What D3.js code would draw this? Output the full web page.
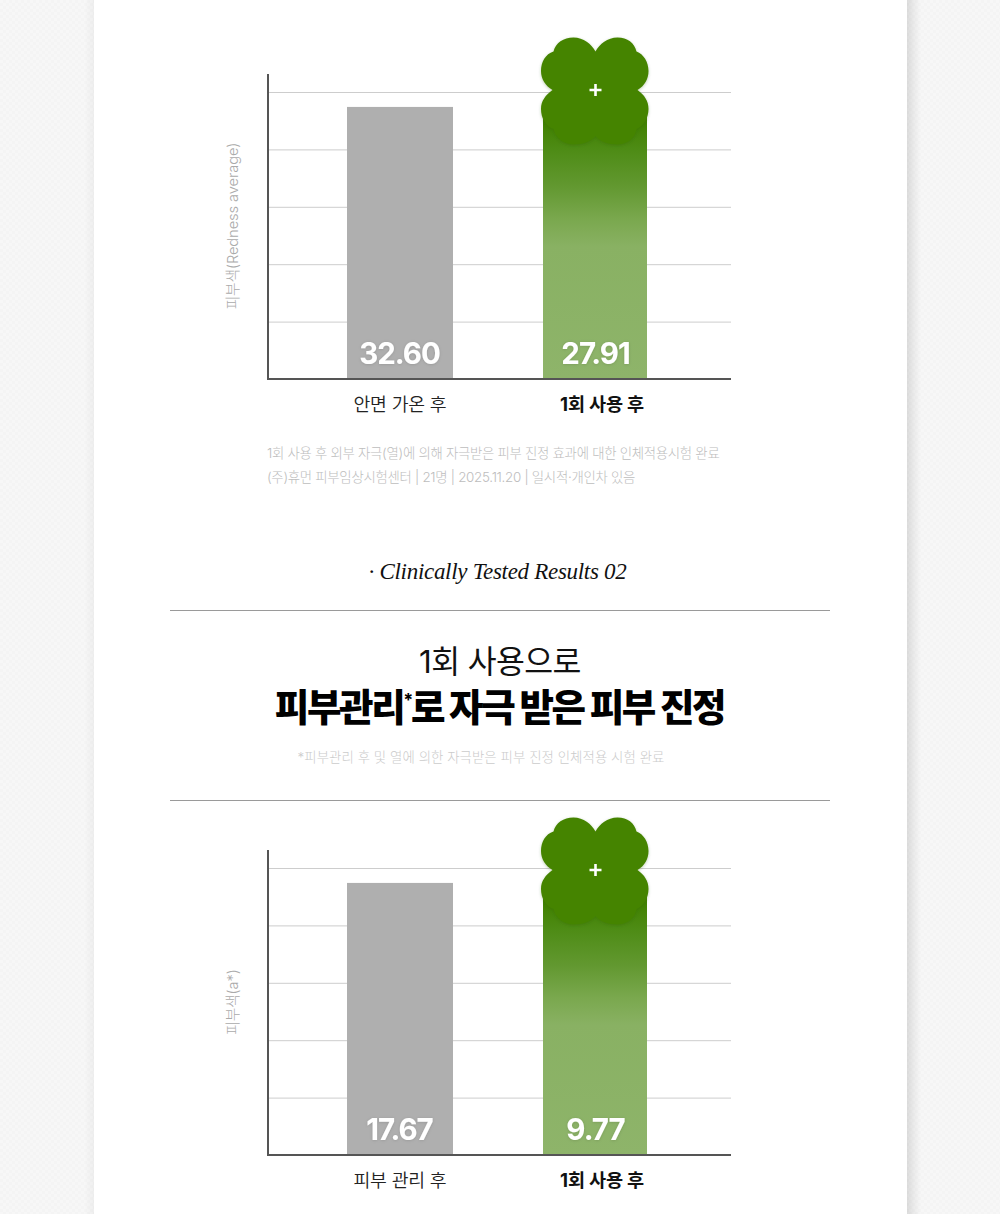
<!DOCTYPE html>
<html><head><meta charset="utf-8">
<script src="https://cdn.jsdelivr.net/npm/d3@7"></script>
<style>html,body{margin:0;padding:0;background:#fff;overflow:hidden}svg{display:block}text{font-family:Inter,"Noto Sans CJK KR","Noto Sans",sans-serif}</style>
</head><body><div id="c"></div>
<script>
const chart1Categories = ["안면 가온 후", "1회 사용 후"];
const chart1Labels = ["32.60", "27.91"];
const chart1Levels = [4.74, 4.80];
const chart1AxisTitle = "피부색(Redness average)";
const chart2Categories = ["피부 관리 후", "1회 사용 후"];
const chart2Labels = ["17.67", "9.77"];
const chart2Levels = [4.74, 4.72];
const chart2AxisTitle = "피부색(a*)";
const gridLevels = [1, 2, 3, 4, 5];
const footnotes = ["1회 사용 후 외부 자극(열)에 의해 자극받은 피부 진정 효과에 대한 인체적용시험 완료", "(주)휴먼 피부임상시험센터 | 21명 | 2025.11.20 | 일시적·개인차 있음"];

const W = 1000, H = 1214;
const svg = d3.select("#c").append("svg").attr("width", W).attr("height", H).attr("viewBox", `0 0 ${W} ${H}`);
const defs = svg.append("defs");

const pat = defs.append("pattern").attr("id", "tex").attr("width", 6).attr("height", 6).attr("patternUnits", "userSpaceOnUse");
pat.append("rect").attr("width", 6).attr("height", 6).attr("fill", "#f4f4f4");
pat.append("rect").attr("width", 3).attr("height", 3).attr("fill", "#f7f7f7");
pat.append("rect").attr("x", 3).attr("y", 3).attr("width", 3).attr("height", 3).attr("fill", "#f7f7f7");
svg.append("rect").attr("width", W).attr("height", H).attr("fill", "url(#tex)");

const shL = defs.append("linearGradient").attr("id", "shL");
shL.append("stop").attr("offset", 0).attr("stop-color", "#000").attr("stop-opacity", 0);
shL.append("stop").attr("offset", 1).attr("stop-color", "#000").attr("stop-opacity", 0.035);
const shR = defs.append("linearGradient").attr("id", "shR");
shR.append("stop").attr("offset", 0).attr("stop-color", "#000").attr("stop-opacity", 0.11);
shR.append("stop").attr("offset", 0.5).attr("stop-color", "#000").attr("stop-opacity", 0.05);
shR.append("stop").attr("offset", 1).attr("stop-color", "#000").attr("stop-opacity", 0);
svg.append("rect").attr("x", 84).attr("width", 10).attr("height", H).attr("fill", "url(#shL)");
svg.append("rect").attr("x", 907).attr("width", 14).attr("height", H).attr("fill", "url(#shR)");
svg.append("rect").attr("x", 94).attr("width", 813).attr("height", H).attr("fill", "#fff");

const grad = defs.append("linearGradient").attr("id", "greenBar").attr("x1", 0).attr("x2", 0).attr("y1", 0).attr("y2", 1);
[[0, "#3f8000"], [0.08, "#428202"], [0.17, "#4e8c16"], [0.30, "#629830"], [0.42, "#7aa84e"], [0.52, "#89b163"], [1, "#8eb46a"]]
  .forEach(([o, c]) => grad.append("stop").attr("offset", o).attr("stop-color", c));

const glow = defs.append("filter").attr("id", "soft").attr("x", "-20%").attr("y", "-20%").attr("width", "140%").attr("height", "140%");
glow.append("feDropShadow").attr("dx", 0).attr("dy", 0.5).attr("stdDeviation", 1.5).attr("flood-color", "#000").attr("flood-opacity", 0.14);
const clovShadow = defs.append("filter").attr("id", "clovS").attr("x", "-20%").attr("y", "-20%").attr("width", "140%").attr("height", "140%");
clovShadow.append("feDropShadow").attr("dx", 0).attr("dy", 1).attr("stdDeviation", 1.5).attr("flood-color", "#2a5a00").attr("flood-opacity", 0.3);

const cloverPath = "M0,-38.5 C-4,-46 -12,-52.5 -22,-52.5 C-32,-52.5 -40,-47 -42,-38.5 C-50,-36 -54.5,-28 -54.5,-19 C-54.5,-11 -50,-4 -43,0 C-50,5 -54.5,11 -54.5,19 C-54.5,28 -50,36 -42,39 C-40,48 -32,54.5 -22,54.5 C-12,54.5 -4,51 0,46 C4,51 12,54.5 22,54.5 C32,54.5 40,48 41,39 C48,36 53,28 53,19 C53,11 49,5 42,0 C49,-4 53,-11 53,-19 C53,-28 48,-36 41,-38.5 C39,-47 32,-52.5 22,-52.5 C12,-52.5 4,-46 0,-38.5 Z";

function drawChart(top, cats, labels, levels, title, cloverY) {
  const g = svg.append("g").attr("transform", `translate(0,${top})`);
  const y = d3.scaleLinear().domain([0, 5]).range([305, 18]);
  const x = d3.scalePoint().domain(cats).range([400, 595]);
  const bw = [106, 104];

  g.selectAll(".grid").data(gridLevels).join("line")
    .attr("x1", 268).attr("x2", 731).attr("y1", d => y(d) + .5).attr("y2", d => y(d) + .5)
    .attr("stroke", "#cdcdcd").attr("stroke-width", 1);

  g.selectAll(".bar").data(cats).join("rect")
    .attr("x", (d, i) => x(d) - bw[i] / 2).attr("width", (d, i) => bw[i])
    .attr("y", (d, i) => y(levels[i])).attr("height", (d, i) => y(0) - y(levels[i]))
    .attr("fill", (d, i) => i === 0 ? "#afafaf" : "url(#greenBar)");

  const cl = g.append("g").attr("transform", `translate(${x(cats[1]) + 0.5},${cloverY})`);
  cl.append("path").attr("d", cloverPath).attr("fill", "#458403").attr("filter", "url(#clovS)");
  cl.append("path").attr("d", "M-1.3,-6 H1.3 V-1.3 H6 V1.3 H1.3 V6 H-1.3 V1.3 H-6 V-1.3 H-1.3 Z").attr("fill", "#fff");

  g.append("line").attr("x1", 267).attr("x2", 731).attr("y1", 305).attr("y2", 305).attr("stroke", "#555").attr("stroke-width", 2);
  g.append("line").attr("x1", 268).attr("x2", 268).attr("y1", 0).attr("y2", 306).attr("stroke", "#555").attr("stroke-width", 2);

  g.selectAll(".val").data(labels).join("text")
    .attr("x", (d, i) => x(cats[i]) - 0.5 + i).attr("y", 290)
    .attr("text-anchor", "middle").attr("fill", "#fff").attr("filter", "url(#soft)")
    .style("font-weight", 700).style("font-size", "29.5px").style("letter-spacing", "-1px")
    .text(d => d);

  g.selectAll(".cat").data(cats).join("text")
    .attr("x", (d, i) => x(d) + (i ? 7 : 0)).attr("y", 337)
    .attr("text-anchor", "middle").attr("fill", (d, i) => i ? "#111" : "#222")
    .style("font-weight", (d, i) => i ? 700 : 350).style("font-size", (d, i) => i ? "18.6px" : "18.3px").style("letter-spacing", "-0.2px")
    .text(d => d);

  g.append("text").attr("transform", `translate(238,152) rotate(-90)`)
    .attr("text-anchor", "middle").attr("fill", "#aaa")
    .style("font-weight", 300).style("font-size", "14.7px").style("letter-spacing", "-0.1px").text(title);
}

drawChart(74, chart1Categories, chart1Labels, chart1Levels, chart1AxisTitle, 16);
drawChart(850, chart2Categories, chart2Labels, chart2Levels, chart2AxisTitle, 20);

svg.selectAll(".fn").data(footnotes).join("text")
  .attr("x", 267).attr("y", (d, i) => 457.5 + i * 24)
  .attr("fill", "#bdbdbd").style("font-weight", 300).style("font-size", "13.4px").style("letter-spacing", "-0.29px").text(d => d);

svg.append("text").attr("x", 497.5).attr("y", 579).attr("text-anchor", "middle").attr("fill", "#111")
  .style("font-family", "'Liberation Serif',serif").style("font-style", "italic").style("font-size", "23px").style("letter-spacing", "-0.3px")
  .text("· Clinically Tested Results 02");

[610, 800].forEach(yy => svg.append("line").attr("x1", 170).attr("x2", 830).attr("y1", yy + .5).attr("y2", yy + .5).attr("stroke", "#9a9a9a"));

svg.append("text").attr("x", 500).attr("y", 672.5).attr("text-anchor", "middle").attr("fill", "#111")
  .style("font-weight", 400).style("font-size", "31.4px").style("letter-spacing", "-0.6px").text("1회 사용으로");

const head = svg.append("text").attr("x", 499.5).attr("y", 721).attr("text-anchor", "middle").attr("fill", "#000")
  .style("font-weight", 900).style("font-size", "37.5px").style("letter-spacing", "-2.4px").style("word-spacing", "1px");
head.append("tspan").text("피부관리");
head.append("tspan").attr("dy", -15).style("font-size", "18px").style("font-weight", 700).text("*");
head.append("tspan").attr("dy", 15).text(" 로 자극 받은 피부 진정".trim());

svg.append("text").attr("x", 481).attr("y", 762).attr("text-anchor", "middle").attr("fill", "#cbcbcb")
  .style("font-weight", 300).style("font-size", "13.4px").style("letter-spacing", "0.06px").text("*피부관리 후 및 열에 의한 자극받은 피부 진정 인체적용 시험 완료");
</script></body></html>
